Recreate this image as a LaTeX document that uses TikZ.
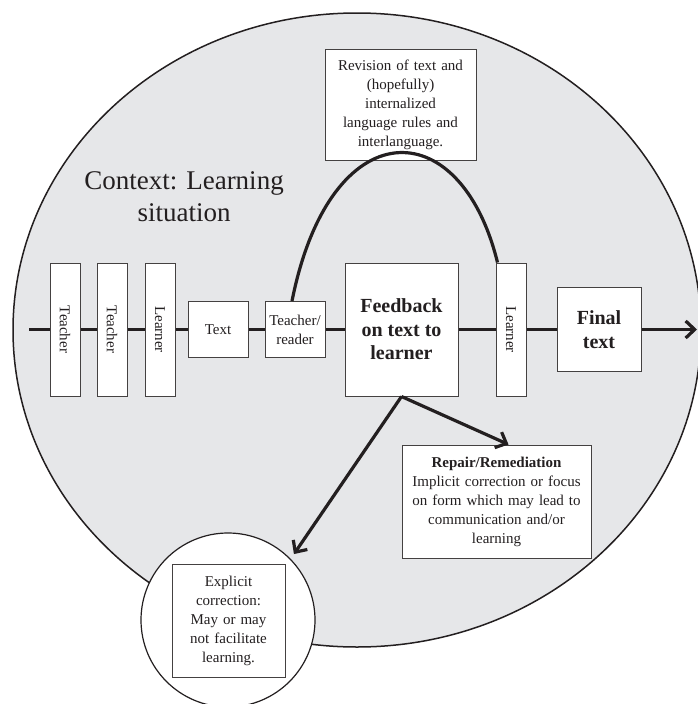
\documentclass[tikz,border=0pt]{standalone}
\usepackage{fontspec}
\setmainfont{Liberation Serif}
\usetikzlibrary{arrows.meta,calc}
\definecolor{ctxfill}{HTML}{E6E7E9}
\definecolor{ink}{HTML}{231F20}
\begin{document}
\begin{tikzpicture}[x=1pt,y=-1pt,
  box/.style={draw=ink!85, line width=1pt, fill=white, inner sep=0pt, text=ink, align=center},
  tallbox/.style={box, minimum width=30pt, minimum height=133pt},
  small/.style={font=\fontsize{15}{19}\selectfont},
  big/.style={font=\fontsize{20}{23.5}\selectfont\bfseries},
  flow/.style={line width=3.2pt, draw=ink},
  tip/.style={-{Straight Barb[length=9pt,width=17pt]}},
]
\useasboundingbox (0,0) rectangle (698,704);
\clip (0,0) rectangle (698,704);
% context ellipse
\draw[fill=ctxfill, draw=ink, line width=1.5pt] (357,330) ellipse [x radius=344, y radius=317];
\node[text=ink, align=center, font=\fontsize{27}{32}\selectfont] (ctx) at (184,197) {Context: Learning\\situation};
% explicit circle
\node[circle, draw=ink, line width=1.2pt, fill=white, minimum size=174pt, inner sep=0pt] (circ) at (228,620) {};
\node[box, small, minimum width=113pt, minimum height=113pt, text width=105pt] (expl) at (228.5,620.5)
  {Explicit\\correction:\\May or may\\not facilitate\\learning.};
% flow nodes
\coordinate (start) at (29,329.5);
\coordinate (stop) at (697,329.5);
\node[tallbox, small] (t1) at (65,329.5) {\rotatebox{-90}{Teacher}};
\node[tallbox, small] (t2) at (112,329.5) {\rotatebox{-90}{Teacher}};
\node[tallbox, small] (l1) at (160,329.5) {\rotatebox{-90}{Learner}};
\node[box, small, minimum width=60pt, minimum height=56pt] (txt) at (218,329.5) {Text};
\node[box, small, minimum width=60pt, minimum height=56pt] (tr) at (295,329.5) {Teacher/\\reader};
\node[box, big, minimum width=113pt, minimum height=133pt] (fb) at (401.5,329.5) {Feedback\\on text to\\learner};
\node[tallbox, small] (l2) at (511,329.5) {\rotatebox{-90}{Learner}};
\node[box, big, minimum width=84pt, minimum height=84pt] (fin) at (599,329.5) {Final\\text};
\node[box, small, minimum width=151pt, minimum height=111pt, text width=147pt] (rev) at (400.5,104.5)
  {Revision of text and\\(hopefully)\\internalized\\language rules and\\interlanguage.};
\node[box, small, minimum width=189pt, minimum height=113pt, text width=185pt] (rep) at (496.5,501.5)
  {\textbf{Repair/Remediation}\\Implicit correction or focus\\on form which may lead to\\communication and/or\\learning};
% connectors
\draw[flow] (start) -- (t1.west);
\draw[flow] (t1.east) -- (t2.west);
\draw[flow] (t2.east) -- (l1.west);
\draw[flow] (l1.east) -- (txt.west);
\draw[flow] (txt.east) -- (tr.west);
\draw[flow] (tr.east) -- (fb.west);
\draw[flow] (fb.east) -- (l2.west);
\draw[flow] (l2.east) -- (fin.west);
\draw[flow, tip] (fin.east) -- (stop);
\draw[flow] ($(tr.north)+(-3,0)$) .. controls (330,110) and (460,110) .. ($(l2.north west)+(2,0)$);
\draw[flow, tip] (fb.south) -- ($(rep.north)+(12,0)$);
\draw[flow, tip] (fb.south) -- ($(circ.45)+(4,-4)$);
\end{tikzpicture}
\end{document}
